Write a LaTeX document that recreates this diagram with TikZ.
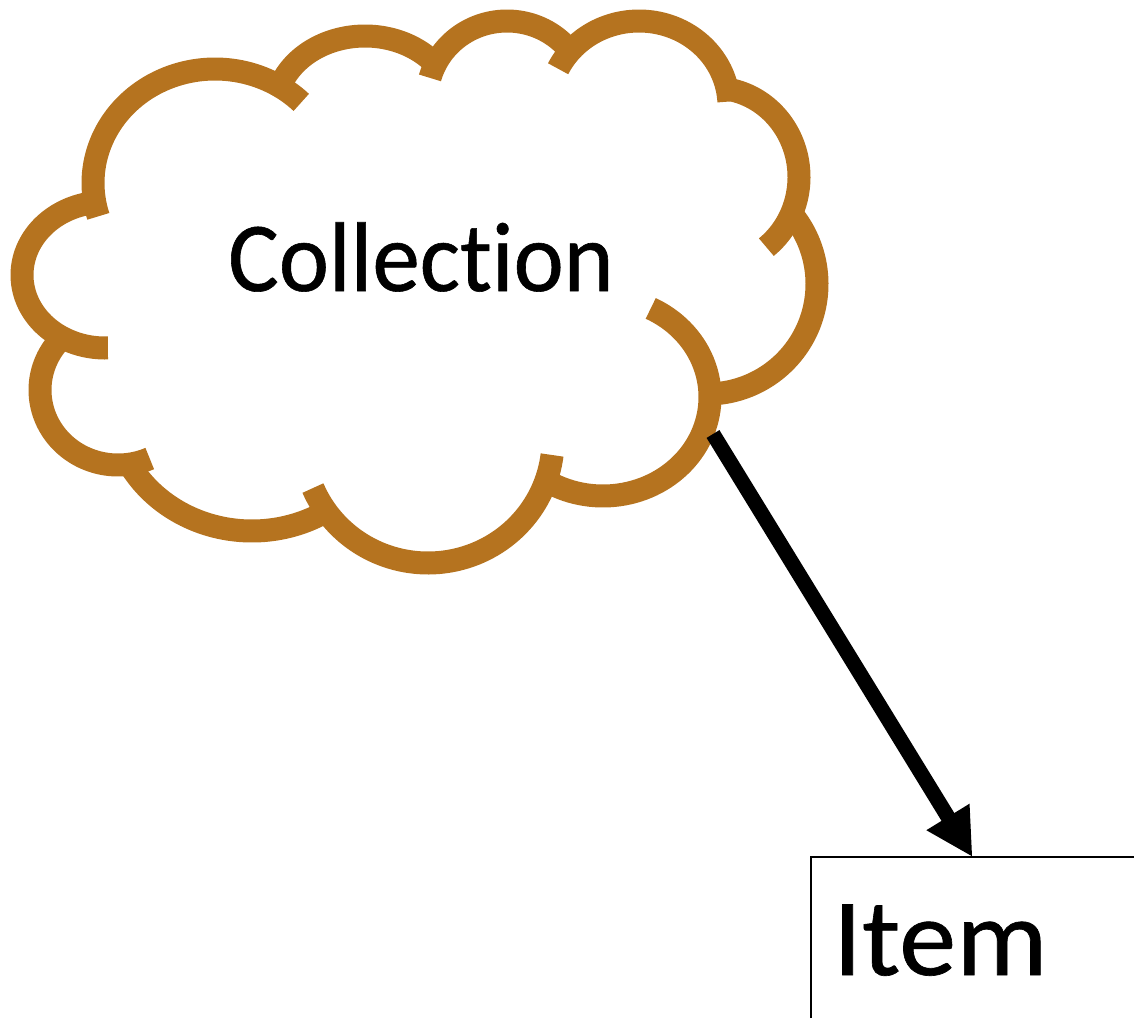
\documentclass[tikz,border=0pt]{standalone}
\usepackage{fontspec}
\setmainfont{Carlito}
\newfontfamily\collectionfont[FakeStretch=0.96,FakeBold=0.6,Ligatures=NoCommon]{Carlito}
\newfontfamily\itemfont[FakeStretch=1.04,FakeBold=0.6,Ligatures=NoCommon]{Carlito}
\usetikzlibrary{arrows.meta}
\definecolor{cloudbrown}{HTML}{B5731F}
\tikzset{
  cloudline/.style={draw=cloudbrown,line width=23pt,line cap=butt,line join=round},
  bigtext/.style={inner sep=0pt,anchor=base,text=black},
  linkarrow/.style={draw=black,line width=15pt,-{Triangle[width=47pt,length=47pt]}},
  boxline/.style={draw=black,line width=1.6pt}
}
\newcommand{\cloudarc}[6]{\draw[cloudline] plot[domain=#5:#6,samples=70] ({#1+#3*cos(\x)},{#2-#4*sin(\x)});}
\begin{document}
\begin{tikzpicture}[x=1pt,y=-1pt]
\useasboundingbox (0,0) rectangle (1134,1018);
\cloudarc{215}{183}{122}{114}{197}{45}
\cloudarc{365}{111}{90}{75}{157}{42}
\cloudarc{507}{99}{80}{78}{164.3}{40}
\cloudarc{639}{106}{90}{85}{154}{3}
\cloudarc{714}{177}{85}{89}{80}{-52}
\cloudarc{707}{284}{110}{110}{40}{-84}
\cloudarc{603}{397}{107}{99}{63.5}{-118}
\cloudarc{428}{440}{125}{123}{-7}{-157}
\cloudarc{252}{402}{140}{129}{210}{301}
\cloudarc{118}{390}{78}{75}{135}{294}
\cloudarc{105}{275}{83}{73}{100}{272}
\node[bigtext,font=\collectionfont\fontsize{99}{120}\selectfont] (collection) at (421,291) {Collection};
\coordinate (arrowstart) at (713,434);
\coordinate (itemtop) at (972.5,857);
\draw[linkarrow] (arrowstart) -- (itemtop);
\coordinate (boxbottom) at (811,1018);
\coordinate (boxcorner) at (811,857);
\coordinate (boxright) at (1134,857);
\draw[boxline] (boxbottom) -- (boxcorner) -- (boxright);
\node[bigtext,anchor=base west,font=\itemfont\fontsize{110}{130}\selectfont] (item) at (833,975) {Item};
\end{tikzpicture}
\end{document}
